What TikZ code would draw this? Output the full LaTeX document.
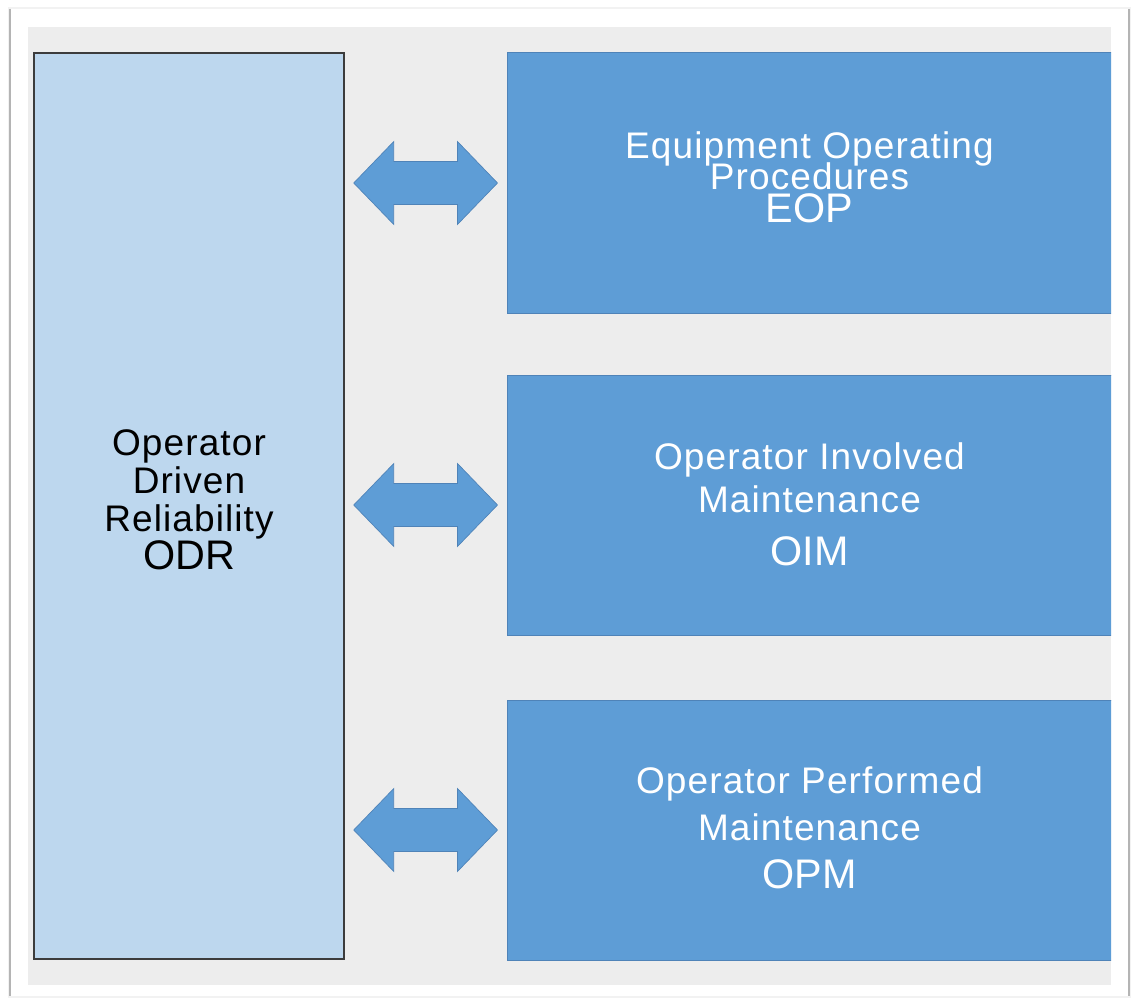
\documentclass[tikz,border=0pt]{standalone}
\usepackage{fontspec}
\setmainfont{Liberation Sans}
\newfontfamily\lblfont[LetterSpace=3]{Liberation Sans}
\usetikzlibrary{calc}

\definecolor{panelgray}{HTML}{EDEDED}
\definecolor{odrfill}{HTML}{BDD7EE}
\definecolor{odrborder}{HTML}{3C3C3C}
\definecolor{boxfill}{HTML}{5E9DD6}
\definecolor{boxborder}{HTML}{4F83B8}
\definecolor{shadowgray}{HTML}{B4B4B4}

% double-headed block arrow between the east side of #1 and the west side of #2
\newcommand\linkarrow[2]{%
  \filldraw[linkstyle] let \p1=(#1.east), \p2=(#2.west) in
    ({\x1+6.75pt},\y2)
    -- ({\x1+36.75pt},{\y2+31.1pt}) -- ({\x1+36.75pt},{\y2+16.1pt})
    -- ({\x2-36.75pt},{\y2+16.1pt}) -- ({\x2-36.75pt},{\y2+31.1pt})
    -- ({\x2-6.75pt},\y2)
    -- ({\x2-36.75pt},{\y2-31.1pt}) -- ({\x2-36.75pt},{\y2-16.1pt})
    -- ({\x1+36.75pt},{\y2-16.1pt}) -- ({\x1+36.75pt},{\y2-31.1pt})
    -- cycle;}

\begin{document}
\begin{tikzpicture}[x=0.75pt,y=-0.75pt,
  lightbox/.style={draw=odrborder, line width=1.1pt, fill=odrfill, inner sep=0pt,
    minimum width=232.5pt, minimum height=679.5pt},
  bluebox/.style={draw=boxborder, line width=0.75pt, fill=boxfill, inner sep=0pt,
    minimum width=453.75pt, minimum height=195pt},
  linkstyle/.style={fill=boxfill, draw=boxborder, line width=0.5pt, line join=miter},
  txt/.style={anchor=base, inner sep=0pt, font=\lblfont\fontsize{27.75}{30}\selectfont},
  acro/.style={anchor=base, inner sep=0pt, font=\fontsize{31}{33}\selectfont},
  ]
\useasboundingbox (0,0) rectangle (1133,999);
\fill[white] (0,0) rectangle (1133,999);

% sheet with its soft edge shadow
\fill[gray!10] (8,7) rectangle (1131,998);
\fill[white] (11,9) rectangle (1128,996);
\draw[shadowgray, line width=1.5pt] (10,9) -- (10,996);
\draw[shadowgray, line width=1.5pt] (1129,9) -- (1129,996);

% grey panel
\fill[panelgray] (28,27) rectangle (1111,985);

% left column
\node[lightbox] (odr) at (189,506) {};
\node[txt] (odr-l1) at ($(odr.center)+(0,-51)$) {Operator};
\node[txt] (odr-l2) at ($(odr.center)+(0,-13)$) {Driven};
\node[txt] (odr-l3) at ($(odr.center)+(0,25)$) {Reliability};
\node[acro] (odr-l4) at ($(odr.center)+(0,63)$) {ODR};

% right column, cut off at the panel edge
\begin{scope}
  \clip (28,27) rectangle (1111,985);
  \node[bluebox] (eop) at (809.5,183) {};
  \node[bluebox] (oim) at (809.5,505) {};
  \node[bluebox] (opm) at (809.5,830) {};
\end{scope}

\begin{scope}[every node/.append style={text=white}]
  \node[txt] (eop-l1) at ($(eop.center)+(0,-24)$) {Equipment Operating};
  \node[txt] (eop-l2) at ($(eop.center)+(0,7)$) {Procedures};
  \node[acro] (eop-l3) at ($(eop.center)+(0,40)$) {EOP};

  \node[txt] (oim-l1) at ($(oim.center)+(0,-36)$) {Operator Involved};
  \node[txt] (oim-l2) at ($(oim.center)+(0,7)$) {Maintenance};
  \node[acro] (oim-l3) at ($(oim.center)+(0,60)$) {OIM};

  \node[txt] (opm-l1) at ($(opm.center)+(0,-37)$) {Operator Performed};
  \node[txt] (opm-l2) at ($(opm.center)+(0,10)$) {Maintenance};
  \node[acro] (opm-l3) at ($(opm.center)+(0,58)$) {OPM};
\end{scope}

% links
\linkarrow{odr}{eop}
\linkarrow{odr}{oim}
\linkarrow{odr}{opm}
\end{tikzpicture}
\end{document}
